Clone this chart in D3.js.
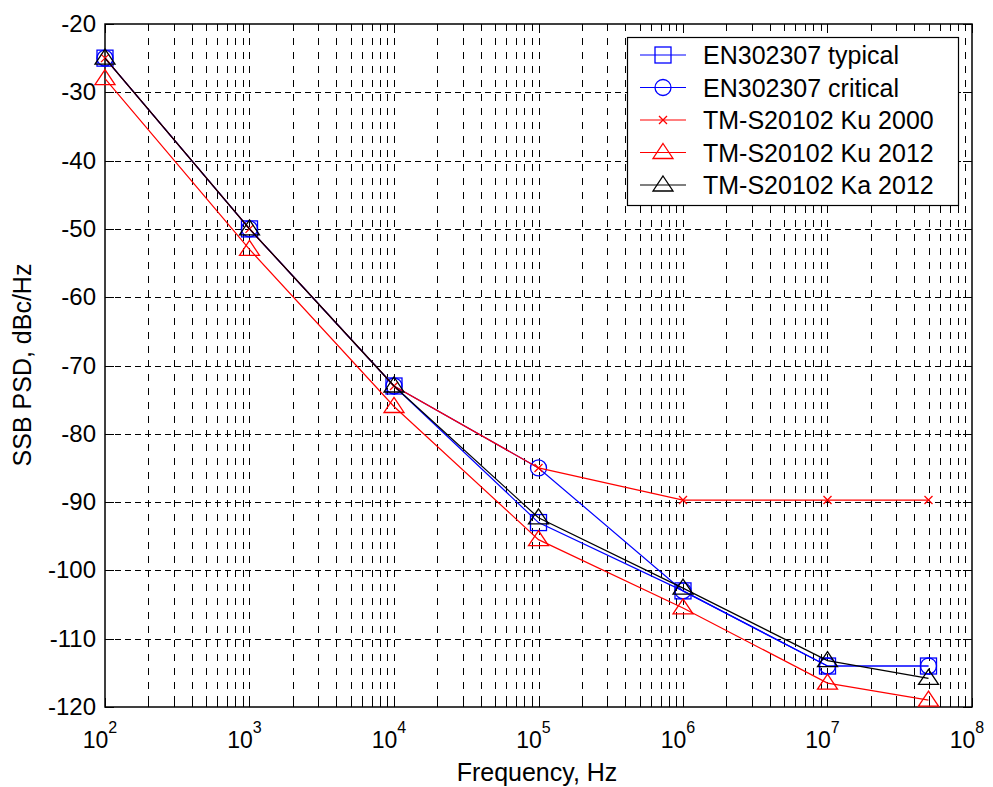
<!DOCTYPE html>
<html>
<head>
<meta charset="utf-8">
<title>SSB phase noise masks</title>
<style>
  body { margin: 0; background: #fff; }
  svg text { font-family: "Liberation Sans", Arial, Helvetica, sans-serif; fill: #000; }
</style>
</head>
<body>
<svg width="993" height="787"></svg>
<script src="https://d3js.org/d3.v7.min.js"></script>
<script>

// offset frequencies, Hz
var freqs = [1e2, 1e3, 1e4, 1e5, 1e6, 1e7, 5e7];

// SSB PSD in dBc/Hz
var enTypical  = [-25, -50, -73, -93, -103, -114, -114];
var enCritical = [-25, -50, -73, -85, -103, -114, -114];
var ku2000     = [-25, -50, -73, -85, -89.7, -89.7, -89.7];
var ku2012     = [-28, -53, -76, -95.5, -105.5, -116.5, -119];
var ka2012     = [-25, -50, -73, -92.3, -102.6, -113.2, -115.8];

var seriesNames = ["EN302307 typical", "EN302307 critical", "TM-S20102 Ku 2000", "TM-S20102 Ku 2012", "TM-S20102 Ka 2012"];
var yTicks = [-120, -110, -100, -90, -80, -70, -60, -50, -40, -30, -20];
var xExps = [2, 3, 4, 5, 6, 7, 8];

var series = [
  {name: seriesNames[0], values: enTypical,  color: "#0000ff", marker: "square"},
  {name: seriesNames[1], values: enCritical, color: "#0000ff", marker: "circle"},
  {name: seriesNames[2], values: ku2000,     color: "#ff0000", marker: "x"},
  {name: seriesNames[3], values: ku2012,     color: "#ff0000", marker: "triangle"},
  {name: seriesNames[4], values: ka2012,     color: "#000000", marker: "triangle"}
];

var svg = d3.select("svg");
var pLeft = 105, pRight = 972, pTop = 24, pBottom = 707;

var x = d3.scaleLog().domain([1e2, 1e8]).range([pLeft, pRight]);
var y = d3.scaleLinear().domain([-120, -20]).range([pBottom, pTop]);

// minor positions 2..9 in each decade
var minorX = [];
for (var e = 2; e < 8; e++) {
  for (var m = 2; m <= 9; m++) minorX.push(m * Math.pow(10, e));
}
var majorX = xExps.map(function(e) { return Math.pow(10, e); });

var grid = svg.append("g").attr("stroke", "#000").attr("stroke-width", 1);

grid.selectAll(".vg")
  .data(majorX.concat(minorX).filter(function(d) { return d > 1e2 && d < 1e8; }))
  .enter().append("line")
    .attr("x1", function(d) { return Math.round(x(d)) + 0.5; })
    .attr("x2", function(d) { return Math.round(x(d)) + 0.5; })
    .attr("y1", pTop).attr("y2", pBottom)
    .attr("stroke-dasharray", "7,7");

grid.selectAll(".hg")
  .data(yTicks.slice(1, -1))
  .enter().append("line")
    .attr("y1", function(d) { return Math.round(y(d)) + 0.5; })
    .attr("y2", function(d) { return Math.round(y(d)) + 0.5; })
    .attr("x1", pLeft).attr("x2", pRight)
    .attr("stroke-dasharray", "6,4");

// ticks (inside, on all four sides)
var ticks = svg.append("g").attr("stroke", "#000").attr("stroke-width", 1);
majorX.concat(minorX).forEach(function(d) {
  var len = majorX.indexOf(d) >= 0 ? 9 : 6;
  var px = Math.round(x(d)) + 0.5;
  ticks.append("line").attr("x1", px).attr("x2", px).attr("y1", pBottom).attr("y2", pBottom - len);
  ticks.append("line").attr("x1", px).attr("x2", px).attr("y1", pTop).attr("y2", pTop + len);
});
yTicks.forEach(function(d) {
  var py = Math.round(y(d)) + 0.5;
  ticks.append("line").attr("y1", py).attr("y2", py).attr("x1", pLeft).attr("x2", pLeft + 9);
  ticks.append("line").attr("y1", py).attr("y2", py).attr("x1", pRight).attr("x2", pRight - 9);
});

// frame
svg.append("rect")
  .attr("x", pLeft).attr("y", pTop)
  .attr("width", pRight - pLeft).attr("height", pBottom - pTop)
  .attr("fill", "none").attr("stroke", "#000").attr("stroke-width", 1.5);

// tick labels
svg.append("g").selectAll("text")
  .data(yTicks)
  .enter().append("text")
    .attr("x", pLeft - 9)
    .attr("y", function(d) { return y(d) + 8; })
    .attr("text-anchor", "end")
    .attr("font-size", 24)
    .text(function(d) { return d; });

var xl = svg.append("g").selectAll("text")
  .data(xExps)
  .enter().append("text")
    .attr("x", function(d) { return x(Math.pow(10, d)) - 5; })
    .attr("y", 748)
    .attr("text-anchor", "middle")
    .attr("font-size", 23);
xl.append("tspan").text("10");
xl.append("tspan").attr("dy", -15).attr("font-size", 16).text(function(d) { return d; });

svg.append("text")
  .attr("x", 537).attr("y", 781)
  .attr("text-anchor", "middle")
  .attr("font-size", 25)
  .text("Frequency, Hz");

svg.append("text")
  .attr("transform", "translate(31,365) rotate(-90)")
  .attr("text-anchor", "middle")
  .attr("font-size", 25)
  .text("SSB PSD, dBc/Hz");

// markers
function drawMarker(g, type, color, cx, cy) {
  if (type === "square") {
    g.append("rect").attr("x", cx - 8).attr("y", cy - 8).attr("width", 16).attr("height", 16)
      .attr("fill", "none").attr("stroke", color).attr("stroke-width", 1.3);
  } else if (type === "circle") {
    g.append("circle").attr("cx", cx).attr("cy", cy).attr("r", 8)
      .attr("fill", "none").attr("stroke", color).attr("stroke-width", 1.3);
  } else if (type === "x") {
    g.append("path").attr("d", "M" + (cx - 4) + "," + (cy - 4) + "L" + (cx + 4) + "," + (cy + 4) +
        "M" + (cx - 4) + "," + (cy + 4) + "L" + (cx + 4) + "," + (cy - 4))
      .attr("stroke", color).attr("stroke-width", 1.3);
  } else if (type === "triangle") {
    g.append("path").attr("d", "M" + cx + "," + (cy - 9) + "L" + (cx + 10) + "," + (cy + 6) +
        "L" + (cx - 10) + "," + (cy + 6) + "Z")
      .attr("fill", "none").attr("stroke", color).attr("stroke-width", 1.3);
  }
}

var line = d3.line()
  .x(function(d) { return x(d[0]); })
  .y(function(d) { return y(d[1]); });

series.forEach(function(s) {
  var pts = freqs.map(function(f, i) { return [f, s.values[i]]; });
  var g = svg.append("g");
  g.append("path")
    .datum(pts)
    .attr("d", line)
    .attr("fill", "none")
    .attr("stroke", s.color)
    .attr("stroke-width", 1.2);
  pts.forEach(function(p) { drawMarker(g, s.marker, s.color, x(p[0]), y(p[1])); });
});

// legend
var lg = svg.append("g");
lg.append("rect")
  .attr("x", 627.5).attr("y", 37.5).attr("width", 331).attr("height", 168)
  .attr("fill", "#fff").attr("stroke", "#000").attr("stroke-width", 1.2);

series.forEach(function(s, i) {
  var cy = 55 + i * 32.5;
  lg.append("line").attr("x1", 640).attr("x2", 686).attr("y1", cy).attr("y2", cy)
    .attr("stroke", s.color).attr("stroke-width", 1.2);
  drawMarker(lg, s.marker, s.color, 663, cy);
  lg.append("text").attr("x", 703).attr("y", cy + 9)
    .attr("font-size", 25).text(s.name);
});

</script>
</body>
</html>
